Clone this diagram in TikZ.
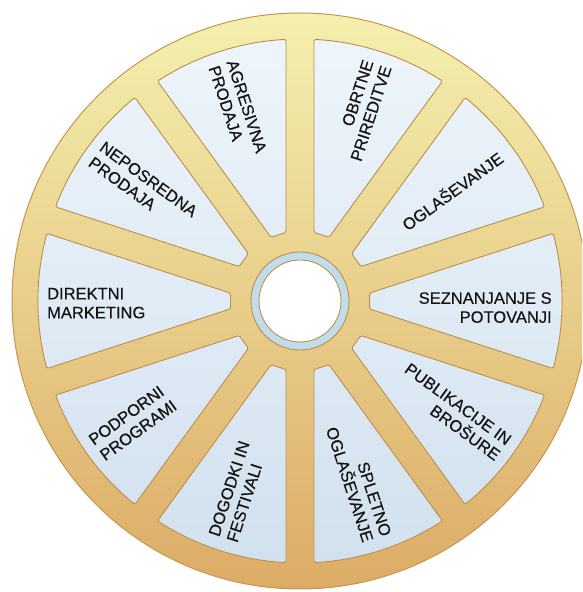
\documentclass[tikz,border=0pt]{standalone}
\usepackage{fontspec}
\setmainfont{Liberation Sans}
\newfontfamily\lblfont{Liberation Sans}[FakeBold=0.35]
\definecolor{goldtop}{RGB}{244,240,174}
\definecolor{goldmid}{RGB}{234,212,142}
\definecolor{goldbot}{RGB}{220,172,102}
\definecolor{rimedge}{RGB}{196,150,86}
\definecolor{paneltop}{RGB}{238,245,251}
\definecolor{panelbot}{RGB}{210,225,239}
\definecolor{paneledge}{RGB}{188,142,78}
\definecolor{hubblue}{RGB}{192,221,236}
\definecolor{txt}{RGB}{20,20,20}
\begin{document}
\begin{tikzpicture}[x=1pt,y=1pt,
  lbl/.style={inner sep=0pt, text=txt, font=\lblfont\fontsize{16.5}{19}\selectfont},
  rlbl/.style={lbl, anchor=east, align=right},
  llbl/.style={lbl, anchor=west, align=left}]
\useasboundingbox (0,0) rectangle (582,592);
\clip (0,0) rectangle (582,592);
\begin{scope}[shift={(300,291)}]
  % wheel body
  \shade[top color=goldtop, middle color=goldmid, bottom color=goldbot] (0,0) circle (288);
  \draw[rimedge, line width=1pt] (0,0) circle (288);
  % panels
  \shade[top color=paneltop, bottom color=panelbot, rounded corners=1.5pt]
    \foreach \t in {0,36,...,324} {
      ({\t-6.5}:70) -- ({\t-14.94}:262)
      arc[start angle={\t-14.94}, end angle={\t+14.94}, radius=262]
      -- ({\t+6.5}:70) -- cycle
    };
  \draw[paneledge, line width=0.9pt, rounded corners=1.5pt]
    \foreach \t in {0,36,...,324} {
      ({\t-6.5}:70) -- ({\t-14.94}:262)
      arc[start angle={\t-14.94}, end angle={\t+14.94}, radius=262]
      -- ({\t+6.5}:70) -- cycle
    };
  % hub
  \draw[paneledge, line width=0.9pt, fill=hubblue] (0,0) circle (49);
  \draw[paneledge, line width=0.9pt, fill=white] (0,0) circle (41);
  % labels
  \node[rlbl, rotate=72]  (t1)  at (72:250)  {OBRTNE\\PRIREDITVE};
  \node[rlbl, rotate=36]  (t2)  at (36:248)  {OGLAŠEVANJE};
  \node[rlbl, rotate=0]   (t3)  at (-1.5:252) {SEZNANJANJE S\\POTOVANJI};
  \node[rlbl, rotate=-36] (t4)  at (-36:252) {PUBLIKACIJE IN\\BROŠURE};
  \node[rlbl, rotate=-72] (t5)  at (-72:250) {SPLETNO\\OGLAŠEVANJE};
  \node[llbl, rotate=72]  (t6)  at (252:250) {DOGODKI IN\\FESTIVALI};
  \node[llbl, rotate=36]  (t7)  at (216:252) {PODPORNI\\PROGRAMI};
  \node[llbl, rotate=0]   (t8)  at (180.5:253) {DIREKTNI\\MARKETING};
  \node[llbl, rotate=-36] (t9)  at (144:252) {NEPOSREDNA\\PRODAJA};
  \node[llbl, rotate=-72] (t10) at (108:250) {AGRESIVNA\\PRODAJA};
\end{scope}
\end{tikzpicture}
\end{document}
